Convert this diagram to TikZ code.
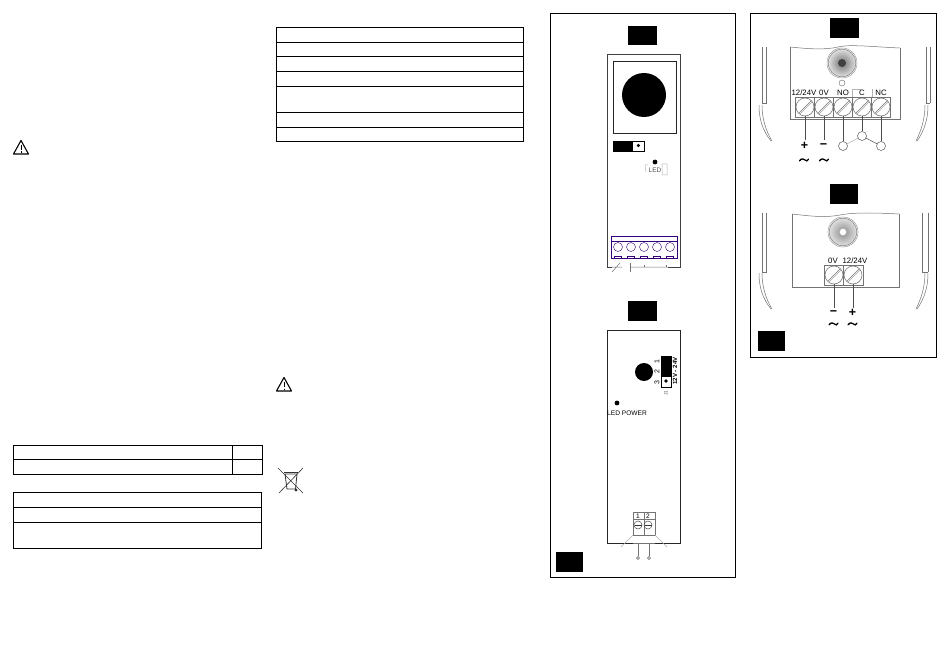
\documentclass[tikz,border=0pt]{standalone}
\usepackage{fontspec}
\setmainfont{Liberation Sans}
\usetikzlibrary{shadings}
\tikzset{
 x=1pt,y=-1pt,
 frame/.style={draw=black,line width=0.9pt},
 tbl/.style={draw=black,line width=0.9pt},
 blackbox/.style={fill=black},
 dev/.style={draw=black!75,line width=0.9pt},
 thin gray/.style={draw=black!55,line width=0.5pt},
 wire/.style={draw=black!70,line width=0.5pt},
 pale/.style={draw=black!30,line width=0.5pt},
 navy/.style={draw=violet!60!blue!70!black,line width=0.4pt},
 screw/.style={circle,draw=black!60,line width=0.5pt,minimum size=18pt,inner sep=0pt},
 smallscrew/.style={circle,draw=black!70,line width=0.5pt,minimum size=8pt,inner sep=0pt},
 nscrew/.style={circle,draw=violet!60!blue!70!black,line width=0.4pt,minimum size=9pt,inner sep=0pt},
 contact/.style={circle,draw=black!65,line width=0.5pt,minimum size=9pt,inner sep=0pt},
 tinyc/.style={circle,draw=black!65,line width=0.4pt,minimum size=3pt,inner sep=0pt},
 lab/.style={font=\fontsize{7.8}{8}\selectfont,text=black,inner sep=0pt},
 sign/.style={font=\fontsize{12.5}{12}\selectfont\bfseries,inner sep=0pt},
 wavy/.style={line width=1.3pt,line cap=round},
}
\newcommand{\tildemark}[2]{\draw[wavy] (#1-4.5,#2+0.8) .. controls (#1-2.5,#2-2.4) and (#1+0.5,#2-0.6) .. (#1+1,#2) .. controls (#1+2,#2+1) and (#1+3.5,#2+1.6) .. (#1+4.5,#2-0.8);}
\begin{document}
\begin{tikzpicture}
\useasboundingbox (0,0) rectangle (950,655);
\fill[white] (0,0) rectangle (950,655);
% tables
\draw[tbl] (13,445) rectangle (262,474);
\draw[tbl] (13,459) -- (262,459) (232,445) -- (232,474);
\draw[tbl] (13,492) rectangle (261,548);
\draw[tbl] (13,507) -- (261,507) (13,522) -- (261,522);
\draw[tbl] (276,27) rectangle (523,141);
\foreach \y in {42,56,71,86,112,127} \draw[tbl] (276,\y) -- (523,\y);
% warning symbols
\draw[line width=1.1pt,line join=round] (21,140.5) -- (13.5,154) -- (28.5,154) -- cycle;
\draw[line width=1pt] (21,145) -- (21,150) (21,151.5) -- (21,152.8);
\draw[line width=1.1pt,line join=round] (284,377.5) -- (276.5,391) -- (291.5,391) -- cycle;
\draw[line width=1pt] (284,382) -- (284,387) (284,388.5) -- (284,389.8);
% bin
\draw[black!80,line width=0.6pt] (278,468) -- (303,493) (303,468) -- (279,493);
\draw[black!80,line width=0.8pt] (285,474) -- (297,474) -- (295.5,489) -- (287,489) -- cycle;
\draw[black!80,line width=0.8pt] (284,472) -- (298,472);
\fill[black!80] (296,490) circle (1.7);
% panels
\draw[frame] (550,13) rectangle (735,577);
\draw[frame] (750,13) rectangle (936,357);
\fill[blackbox] (628,26) rectangle (657,45.5);
\fill[blackbox] (628,301) rectangle (657,321);
\fill[blackbox] (556,552) rectangle (583,572);
\fill[blackbox] (830,18) rectangle (859,38);
\fill[blackbox] (830,184) rectangle (858,204);
\fill[blackbox] (758,331) rectangle (785,351);
% device A
\draw[dev] (612,267) -- (607,267) -- (607,54) -- (680,54) -- (680,267) -- (668,267);
\draw[dev,line width=0.7pt,draw=black!85] (613,61) rectangle (676,133);
\fill (644,95) circle (22);
\draw[black,line width=0.7pt] (613,141) rectangle (644,151);
\fill (613,141) rectangle (633,151);
\fill (638.3,145.5) circle (1.7);
\fill (655,162) circle (2.4);
\node[lab,font=\fontsize{6.5}{7}\selectfont,text=black!70] (ledA) at (655,170.5) {LED};
\draw[pale] (648,165) -- (645,165) -- (646,172) (662,164) -- (662,175) -- (667,175) -- (667,164) -- cycle;
\draw[navy] (611,236) rectangle (677,258);
\draw[navy] (611,241) -- (677,241);
\foreach \i/\x in {1/618,2/631,3/644,4/657,5/670} {
 \node[nscrew] (n\i) at (\x,247) {};
 \draw[navy] (\x-3.5,259) -- (\x-3.5,256) -- (\x+3.5,256) -- (\x+3.5,259);
}
\draw[navy] (611,258.5) -- (677,258.5);
\draw[thin gray] (612,267) -- (622,267) (620,263) -- (612,272) (630,267) -- (668,267);
\draw[thin gray] (630,263) -- (630,272) (644,265) -- (644,267) (666,265) -- (666,267);
% device B
\draw[dev,draw=black!85] (633,543) -- (607,543) -- (607,330) -- (680,330) -- (680,543) -- (655,543);
\draw[thin gray] (633,543) -- (655,543);
\fill (644,372) circle (9);
\draw[black,line width=0.7pt] (661,356) rectangle (671,387);
\fill (661,356) rectangle (671,377);
\fill (666,381) circle (1.8);
\foreach \t/\y in {1/362,2/372,3/383}
 \node[lab,rotate=90,font=\fontsize{7}{7}\selectfont] (j\t) at (657,\y) {\t};
\node[lab,rotate=90,font=\fontsize{6.1}{6}\selectfont\bfseries,text=black] (v12) at (675,371) {12V - 24V};
\node[lab,rotate=90,font=\fontsize{5}{6}\selectfont,text=black!60] (j1) at (666,393) {J1};
\fill (617,403) circle (2.4);
\node[lab,font=\fontsize{6.6}{7}\selectfont] (ledpow) at (627,413) {LED POWER};
\draw[thin gray] (633,512) rectangle (655,535);
\draw[thin gray] (633,519) -- (655,519) (644,512) -- (644,535);
\node[lab,font=\fontsize{6.5}{7}\selectfont] (b1) at (638,516) {1};
\node[lab,font=\fontsize{6.5}{7}\selectfont] (b2) at (648,516) {2};
\node[smallscrew] (s1) at (638,525) {};
\node[smallscrew] (s2) at (648,525) {};
\draw[black!80,line width=0.5pt] (634.5,525) -- (641.5,525) (644.5,525) -- (651.5,525);
\node[tinyc] (o1) at (638,558) {};
\node[tinyc] (o2) at (649,558) {};
\coordinate (w1) at (638,543);
\coordinate (w2) at (649,543);
\draw[thin gray] (w1) -- (o1) (w2) -- (o2);
\coordinate (d1) at (633,535); \coordinate (d2) at (621,547);
\coordinate (d3) at (655,535); \coordinate (d4) at (667,547);
\draw[pale] (d1) -- (d2) (d3) -- (d4);
% device C
\draw[thin gray] (790,47) .. controls (810,49) and (825,50) .. (838,47) .. controls (850,44) and (875,47) .. (900,48);
\draw[thin gray] (790,47) -- (790,119) -- (900,119) -- (900,48);
\shade[inner color=black!55,outer color=black!12] (842,63) circle (14);
\draw[draw=black!40,line width=0.5pt] (842,63) circle (15);
\draw[draw=black!50,line width=0.5pt] (842,63) circle (13.8);
\fill[black!75] (842,63) circle (4);
\node[circle,draw=black!60,line width=0.4pt,minimum size=6pt,inner sep=0pt] (tc) at (842,83) {};
\fill[white] (795.5,97) rectangle (890.5,117);
\draw[thin gray] (795.5,97) rectangle (890.5,117);
\foreach \x in {814.5,833.5,852.5,871.5} \draw[thin gray] (\x,97) -- (\x,117);
\draw[pale] (852,97) -- (852,89) -- (861,89) (872,89) -- (872,97);
\foreach \n/\x in {a/805,b/824,c/843,d/862,e/881} {
 \node[screw] (t\n) at (\x,107) {};
 \draw[thin gray] (\x-6,113) -- (\x+6,101);
 \draw[draw=black!35,line width=0.4pt] (\x-5,114) -- (\x+7,102);
}
\node[lab] (l1) at (804,93) {12/24V};
\node[lab] (l2) at (824,93) {0V};
\node[lab] (l3) at (843,93) {NO};
\node[lab] (l4) at (862,93) {C};
\node[lab] (l5) at (881,93) {NC};
\node[contact] (cNO) at (843,146) {};
\node[contact] (cC) at (862,136) {};
\node[contact] (cNC) at (881,146) {};
\coordinate (pa) at (805,140);
\coordinate (pb) at (824,140);
\draw[wire] (ta.south) -- (pa) (tb.south) -- (pb);
\draw[wire] (tc.south) -- (cNO) (td.south) -- (cC) (te.south) -- (cNC);
\draw[pale] (cNO) -- (cC);
\draw[wire] (cC) -- (cNC);
\node[sign] (plus1) at (804.5,146) {+};
\node[sign] (minus1) at (823.5,146) {\textminus};
\tildemark{804}{160}
\tildemark{824}{160}
% device D
\draw[thin gray] (792,214) .. controls (810,216) and (825,218) .. (840,215) .. controls (855,212) and (880,213) .. (899,214);
\draw[thin gray] (792,214) -- (792,287) -- (899,287) -- (899,214);
\shade[inner color=black!45,outer color=black!12] (843,232) circle (14);
\draw[draw=black!40,line width=0.5pt] (843,232) circle (15);
\draw[draw=black!50,line width=0.5pt] (843,232) circle (13.8);
\node[circle,fill=white,draw=black!30,line width=0.3pt,minimum size=7pt,inner sep=0pt] (dc) at (843,232) {};
\fill[white] (824,265) rectangle (863,285);
\draw[thin gray] (824,265) rectangle (863,285) (843.5,265) -- (843.5,285);
\node[screw] (tf) at (834,275) {};
\node[screw] (tg) at (853,275) {};
\draw[thin gray] (828,281) -- (840,269) (847,281) -- (859,269);
\draw[draw=black!35,line width=0.4pt] (829,282) -- (841,270) (848,282) -- (860,270);
\node[lab] (l6) at (833,261) {0V};
\node[lab] (l7) at (855,261) {12/24V};
\coordinate (pf) at (834,308);
\coordinate (pg) at (853,308);
\draw[wire] (tf.south) -- (pf) (tg.south) -- (pg);
\node[sign] (minus2) at (833.5,313) {\textminus};
\node[sign] (plus2) at (852.5,313) {+};
\tildemark{833.5}{324}
\tildemark{852.5}{324}
% side curves
\foreach \ya/\yb/\yc/\yd/\rx/\rs in {47/103/105/141/930/926,213/272/273/309/928/922} {
 \draw[thin gray] (762,\ya) -- (762,\yb) (766.5,\ya) -- (766.5,\yb) -- (762,\yb);
 \draw[thin gray] (759,\yc) .. controls (759,\yc+15) and (763,\yd-10) .. (771,\yd);
 \draw[thin gray] (762,\yc) .. controls (762,\yc+14) and (766,\yd-10) .. (772,\yd);
 \draw[thin gray] (\rx,\ya) -- (\rx,\yb) (\rs,\ya) -- (\rs,\yb) -- (\rx,\yb);
 \draw[thin gray] (928,\yc) .. controls (928,\yc+15) and (924,\yd-10) .. (917,\yd);
 \draw[thin gray] (925,\yc) .. controls (925,\yc+14) and (921,\yd-10) .. (916,\yd);
}
\end{tikzpicture}
\end{document}
